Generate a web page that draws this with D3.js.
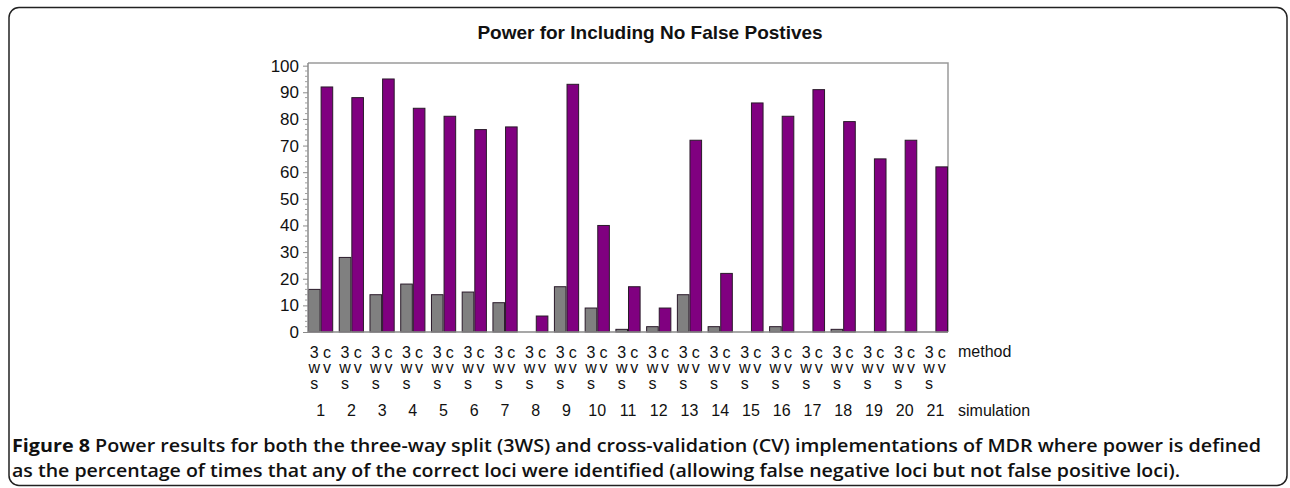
<!DOCTYPE html>
<html>
<head>
<meta charset="utf-8">
<script src="https://cdn.jsdelivr.net/npm/d3@7"></script>
<style>
  html, body { margin: 0; padding: 0; background: #fff; }
  svg { display: block; }
</style>
</head>
<body>
<svg id="chart" width="1290" height="488"></svg>
<script>
const simulations = ["1","2","3","4","5","6","7","8","9","10","11","12","13","14","15","16","17","18","19","20","21"];
const methods = ["3ws", "cv"];
const power3WS = [16, 28, 14, 18, 14, 15, 11, 0, 17, 9, 1, 2, 14, 2, 0, 2, 0, 1, 0, 0, 0];
const powerCV  = [92, 88, 95, 84, 81, 76, 77, 6, 93, 40, 17, 9, 72, 22, 86, 81, 91, 79, 65, 72, 62];
const yTicks = [0, 10, 20, 30, 40, 50, 60, 70, 80, 90, 100];
const title = "Power for Including No False Postives";
const captionBold = "Figure 8";
const captionLine1 = "Power results for both the three-way split (3WS) and cross-validation (CV) implementations of MDR where power is defined";
const captionLine2 = "as the percentage of times that any of the correct loci were identified (allowing false negative loci but not false positive loci).";

const colors = { "3ws": "#808080", "cv": "#800080" };
const seriesByMethod = { "3ws": power3WS, "cv": powerCV };

const svg = d3.select("#chart");

// outer frame
svg.append("rect")
  .attr("x", 9).attr("y", 7.5).attr("width", 1278).attr("height", 478)
  .attr("rx", 10).attr("ry", 10)
  .attr("fill", "none").attr("stroke", "#222").attr("stroke-width", 1.5);

const plotLeft = 308, plotRight = 948, plotTop = 63, plotBottom = 332;

const x0 = d3.scaleBand().domain(simulations).range([plotLeft, plotRight]).paddingInner(0.18).paddingOuter(0);
const x1 = d3.scaleBand().domain(methods).range([0, x0.bandwidth()]).padding(0);
const y = d3.scaleLinear().domain([0, 101]).range([plotBottom, plotTop]);

// title
svg.append("text")
  .attr("x", 650).attr("y", 39)
  .attr("text-anchor", "middle")
  .attr("font-family", "Liberation Sans, Arial, sans-serif")
  .attr("font-weight", "bold").attr("font-size", 19)
  .attr("fill", "#111")
  .text(title);

// plot frame (top and right)
svg.append("path")
  .attr("d", `M${plotLeft},${plotTop}H${plotRight}V${plotBottom}`)
  .attr("fill", "none").attr("stroke", "#9a9a9a").attr("stroke-width", 1.5);

// bars
const data = simulations.map((s, i) => ({ sim: s, vals: methods.map(m => ({ m, v: seriesByMethod[m][i] })) }));
const groups = svg.append("g").selectAll("g").data(data).join("g")
  .attr("transform", d => `translate(${x0(d.sim)},0)`);
groups.selectAll("rect").data(d => d.vals.filter(e => e.v > 0)).join("rect")
  .attr("x", d => x1(d.m) + 0.5)
  .attr("y", d => y(d.v))
  .attr("width", x1.bandwidth() - 1)
  .attr("height", d => y(0) - y(d.v))
  .attr("fill", d => colors[d.m])
  .attr("stroke", "#2a1a2a").attr("stroke-width", 1);

// bottom axis line
svg.append("line")
  .attr("x1", plotLeft).attr("x2", plotRight).attr("y1", plotBottom).attr("y2", plotBottom)
  .attr("stroke", "#8a8a8a").attr("stroke-width", 1.5);

// y axis
const yAxis = d3.axisLeft(y).tickValues(yTicks).tickSize(5).tickPadding(4);
const ya = svg.append("g").attr("transform", `translate(${plotLeft},0)`).call(yAxis);
ya.select(".domain").attr("stroke", "#8a8a8a").attr("stroke-width", 1.5).attr("d", `M0,${plotTop}V${plotBottom}`);
ya.selectAll(".tick line").attr("stroke", "#8a8a8a");
ya.selectAll(".tick text")
  .attr("font-family", "Liberation Sans, Arial, sans-serif")
  .attr("font-size", 17).attr("fill", "#111");
// minor ticks
const minor = d3.range(0, 101, 2).filter(v => v % 10 !== 0);
svg.append("g").selectAll("line").data(minor).join("line")
  .attr("x1", plotLeft - 3).attr("x2", plotLeft)
  .attr("y1", d => y(d)).attr("y2", d => y(d))
  .attr("stroke", "#a0a0a0").attr("stroke-width", 1);

// x labels: stacked method characters
const labelFont = "Liberation Sans, Arial, sans-serif";
const rowBase = [358, 373, 389];
simulations.forEach(s => {
  methods.forEach(m => {
    const cx = x0(s) + x1(m) + x1.bandwidth() / 2;
    m.split("").forEach((ch, k) => {
      svg.append("text")
        .attr("x", cx).attr("y", rowBase[k])
        .attr("text-anchor", "middle")
        .attr("font-family", labelFont).attr("font-size", 16).attr("fill", "#111")
        .text(ch);
    });
  });
  svg.append("text")
    .attr("x", x0(s) + x0.bandwidth() / 2).attr("y", 416)
    .attr("text-anchor", "middle")
    .attr("font-family", labelFont).attr("font-size", 16).attr("fill", "#111")
    .text(s);
});
svg.append("text").attr("x", 958).attr("y", 357)
  .attr("font-family", labelFont).attr("font-size", 16).attr("fill", "#111").text("method");
svg.append("text").attr("x", 958).attr("y", 416)
  .attr("font-family", labelFont).attr("font-size", 16).attr("fill", "#111").text("simulation");

// caption
const capFont = "Open Sans, Noto Sans, sans-serif";
svg.append("text").attr("x", 12).attr("y", 452)
  .attr("font-family", capFont).attr("font-size", 18.2).attr("font-weight", "bold").attr("fill", "#111")
  .attr("textLength", 78).attr("lengthAdjust", "spacingAndGlyphs")
  .text(captionBold);
svg.append("text").attr("x", 95).attr("y", 452)
  .attr("font-family", capFont).attr("font-size", 18.2).attr("font-weight", 600).attr("fill", "#111")
  .attr("textLength", 1166).attr("lengthAdjust", "spacingAndGlyphs")
  .text(captionLine1);
svg.append("text").attr("x", 12).attr("y", 477)
  .attr("font-family", capFont).attr("font-size", 18.2).attr("font-weight", 600).attr("fill", "#111")
  .attr("textLength", 1168).attr("lengthAdjust", "spacingAndGlyphs")
  .text(captionLine2);
</script>
</body>
</html>
